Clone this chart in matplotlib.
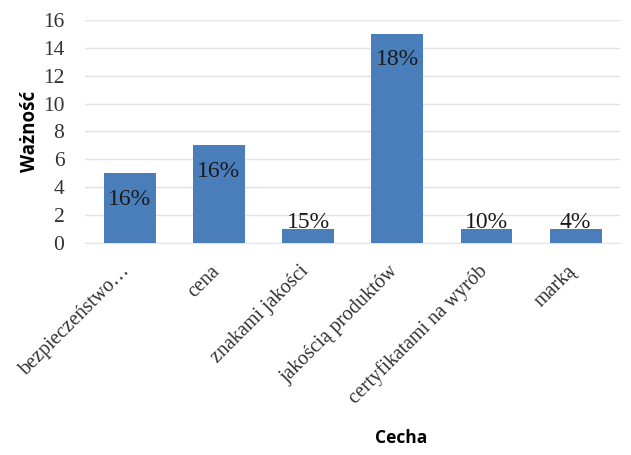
import matplotlib.pyplot as plt
from matplotlib.transforms import ScaledTranslation

# data
cechy = ["bezpieczeństwo…", "cena", "znakami jakości", "jakością produktów",
         "certyfikatami na wyrób", "marką"]
waznosc = [5, 7, 1, 15, 1, 1]
procenty = ["16%", "16%", "15%", "18%", "10%", "4%"]

serif = "Liberation Serif"
sans = "Open Sans"

fig = plt.figure(figsize=(6.31, 4.55), dpi=100)
ax = fig.add_axes([0.135, 0.466, 0.848, 0.49])

x = range(len(cechy))
bars = ax.bar(x, waznosc, width=0.58, color="#4a7ebb", zorder=3)

for b, v, p in zip(bars, waznosc, procenty):
    cx = b.get_x() + b.get_width() / 2
    if v > 2:
        ax.annotate(p, (cx, v), xytext=(0, -11), textcoords="offset points",
                    ha="center", va="top", fontsize=17, family=serif, color="#1a1a1a")
    else:
        ax.annotate(p, (cx, v), xytext=(0, -3), textcoords="offset points",
                    ha="center", va="bottom", fontsize=17, family=serif, color="#1a1a1a")

ax.set_ylim(0, 16)
ax.set_xlim(-0.5, len(cechy) - 0.5)
ax.set_yticks(range(0, 17, 2))
ax.set_yticklabels([str(t) for t in range(0, 17, 2)], family=serif, fontsize=15.5,
                   color="#333333")
ax.set_xticks(list(x))
ax.set_xticklabels(cechy, rotation=45, ha="right", rotation_mode="anchor",
                   family=serif, fontsize=14.5, color="#333333")
ax.tick_params(length=0)
ax.tick_params(axis="y", pad=15)
ax.tick_params(axis="x", pad=12)
shift = ScaledTranslation(-0.09, -0.02, fig.dpi_scale_trans)
for lbl in ax.get_xticklabels():
    lbl.set_transform(lbl.get_transform() + shift)

ax.grid(axis="y", color="#e3e3e3", linewidth=1, zorder=0)
for s in ["top", "right", "left"]:
    ax.spines[s].set_visible(False)
ax.spines["bottom"].set_color("#e3e3e3")

ax.set_ylabel("Ważność", family=sans, fontweight="bold", fontsize=13.5, labelpad=2)
fig.text(0.635, 0.037, "Cecha", family=sans, fontweight="bold", fontsize=12.5,
         ha="center", va="center")

fig.savefig("out.png", dpi=100)
